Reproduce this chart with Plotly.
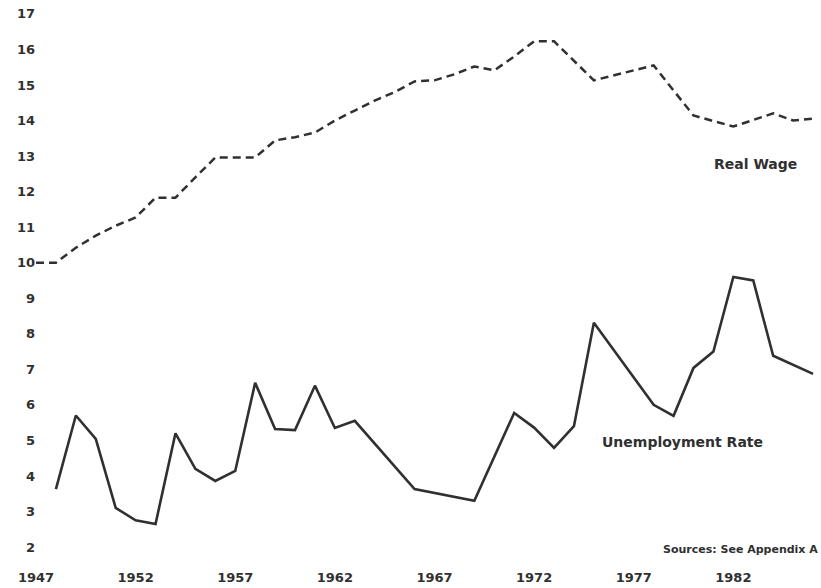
import plotly.graph_objects as go

# Real wage (dashed)
wage_years = [1947, 1948, 1949, 1950, 1951, 1952, 1953, 1954, 1955, 1956,
              1957, 1958, 1959, 1960, 1961, 1962, 1963, 1964, 1965, 1966,
              1967, 1968, 1969, 1970, 1971, 1972, 1973, 1975, 1978, 1980,
              1982, 1984, 1985, 1986]
real_wage = [10.0, 10.0, 10.42, 10.76, 11.04, 11.27, 11.83, 11.83, 12.4, 12.96,
             12.96, 12.96, 13.44, 13.53, 13.66, 14.0, 14.28, 14.56, 14.8, 15.1,
             15.13, 15.3, 15.52, 15.41, 15.8, 16.23, 16.23, 15.13, 15.55, 14.14,
             13.83, 14.2, 14.0, 14.05]

# Unemployment rate (solid)
unemp_years = [1948, 1949, 1950, 1951, 1952, 1953, 1954, 1955, 1956, 1957,
               1958, 1959, 1960, 1961, 1962, 1963, 1966, 1969, 1971, 1972,
               1973, 1974, 1975, 1978, 1979, 1980, 1981, 1982, 1983, 1984,
               1986]
unemp_rate = [3.63, 5.7, 5.04, 3.1, 2.75, 2.65, 5.2, 4.2, 3.86, 4.14,
              6.62, 5.32, 5.29, 6.54, 5.35, 5.55, 3.63, 3.3, 5.77, 5.36,
              4.79, 5.4, 8.31, 6.0, 5.69, 7.04, 7.5, 9.6, 9.5, 7.38,
              6.87]

x_ticks = [1947, 1952, 1957, 1962, 1967, 1972, 1977, 1982]
y_ticks = list(range(2, 18))

ink = "#303030"
font_family = "'DejaVu Sans', sans-serif"

fig = go.Figure()

fig.add_trace(go.Scatter(
    x=wage_years, y=real_wage, mode="lines",
    line=dict(color=ink, width=2.5, dash="8px,5px"),
    name="Real Wage"
))

fig.add_trace(go.Scatter(
    x=unemp_years, y=unemp_rate, mode="lines",
    line=dict(color=ink, width=2.6),
    name="Unemployment Rate"
))

# series labels and source note
fig.add_annotation(x=1985.3, y=12.79, xref="x", yref="y", text="Real Wage",
                   showarrow=False, xanchor="right",
                   font=dict(size=14, color=ink, family=font_family, weight="bold"))
fig.add_annotation(x=1975.3, y=4.96, xref="x", yref="y", text="Unemployment Rate",
                   showarrow=False, xanchor="left",
                   font=dict(size=14, color=ink, family=font_family, weight="bold"))
fig.add_annotation(x=1986.35, y=1.92, xref="x", yref="y", text="Sources: See Appendix A",
                   showarrow=False, xanchor="right",
                   font=dict(size=11, color=ink, family=font_family, weight="bold"))

fig.update_layout(
    width=821, height=588,
    margin=dict(l=36, r=0, t=0, b=20),
    paper_bgcolor="white", plot_bgcolor="white",
    showlegend=False,
    font=dict(family=font_family, color=ink),
    xaxis=dict(
        range=[1947, 1986.4],
        tickvals=x_ticks,
        ticktext=[str(v) for v in x_ticks],
        showgrid=False, zeroline=False, showline=False, ticks="",
        tickfont=dict(size=13, weight="bold"),
    ),
    yaxis=dict(
        range=[1.41, 17.39],
        tickvals=y_ticks,
        showgrid=False, zeroline=False, showline=False, ticks="",
        tickfont=dict(size=13, weight="bold"),
    ),
)

# page body has a default 8px margin, drop it so the figure sits at 0,0
fig.write_html("out.html", config={"displayModeBar": False},
               post_script="document.body.style.margin='0';")
